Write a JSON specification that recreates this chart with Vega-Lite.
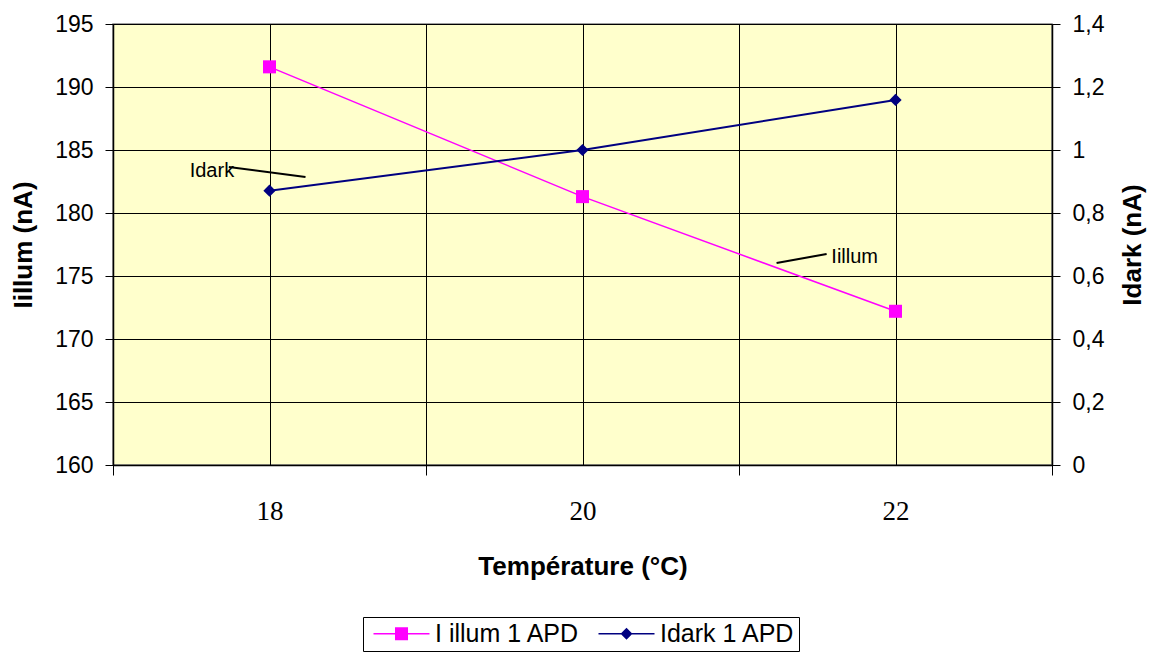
{
  "$schema": "https://vega.github.io/schema/vega-lite/v6.json",
  "width": 939,
  "height": 441,
  "autosize": "none",
  "padding": {"left": 113, "top": 24, "right": 99, "bottom": 188},
  "background": "white",
  "datasets": {
    "illum": [
      {"T": 18, "I": 191.6, "s": "I illum 1 APD"},
      {"T": 20, "I": 181.3, "s": "I illum 1 APD"},
      {"T": 22, "I": 172.2, "s": "I illum 1 APD"}
    ],
    "dark": [
      {"T": 18, "D": 0.871, "s": "Idark 1 APD"},
      {"T": 20, "D": 1.0, "s": "Idark 1 APD"},
      {"T": 22, "D": 1.159, "s": "Idark 1 APD"}
    ],
    "notes": [
      {"T": 17.74, "I": 183.65, "T2": 18.23, "I2": 182.86, "tx": 17.49, "ty": 183.33, "label": "Idark"},
      {"T": 21.24, "I": 176.03, "T2": 21.56, "I2": 176.75, "tx": 21.59, "ty": 176.47, "label": "Iillum"}
    ]
  },
  "layer": [
    {
      "layer": [
        {
          "data": {"name": "illum"},
          "mark": {"type": "line", "strokeWidth": 1.5},
          "encoding": {
            "x": {"field": "T", "type": "quantitative", "scale": {"domain": [17, 23], "nice": false, "zero": false},
              "axis": {
                "values": [17, 18, 19, 20, 21, 22, 23],
                "labelExpr": "datum.value % 2 === 0 ? '' + datum.value : ''",
                "grid": true, "gridColor": "#000000", "gridWidth": 1,
                "tickSize": 10,
                "tickOpacity": {"condition": {"test": "datum.value % 2 === 0", "value": 0}, "value": 1},
                "labelFont": "Liberation Serif", "labelFontSize": 27, "labelPadding": 23,
                "title": "Température (°C)", "titlePadding": 29
              }},
            "y": {"field": "I", "type": "quantitative", "scale": {"domain": [160, 195], "nice": false, "zero": false},
              "axis": {"values": [160, 165, 170, 175, 180, 185, 190, 195], "grid": true, "gridColor": "#000000", "gridWidth": 1,
                "tickSize": 8, "labelPadding": 12, "labelFontSize": 23, "title": "Iillum (nA)", "titlePadding": 18}},
            "color": {"field": "s", "type": "nominal", "scale": {"domain": ["I illum 1 APD", "Idark 1 APD"], "range": ["#FF00FF", "#000080"]},
              "legend": {
                "orient": "none", "legendX": 250, "legendY": 593, "direction": "horizontal", "title": null,
                "strokeColor": "#000000", "padding": 4, "labelFontSize": 25, "labelFont": "Liberation Sans", "labelColor": "#000000",
                "symbolSize": 196, "symbolOffset": 22, "labelOffset": 21, "columnPadding": 12,
                "encode": {"symbols": {"update": {
                  "shape": {"signal": "datum.value === 'I illum 1 APD' ? 'M-4,-0.1H4V0.1H-4Z M-0.93,-0.93H0.93V0.93H-0.93Z' : 'M-4,-0.1H4V0.1H-4Z M0,-0.85L0.85,0L0,0.85L-0.85,0Z'"},
                  "fill": {"signal": "datum.value === 'I illum 1 APD' ? '#FF00FF' : '#000080'"},
                  "fillOpacity": {"value": 1},
                  "strokeWidth": {"value": 0}
                }}}
              }}
          }
        },
        {
          "data": {"name": "illum"},
          "mark": {"type": "point", "shape": "square", "filled": true, "size": 170, "opacity": 1},
          "encoding": {
            "x": {"field": "T", "type": "quantitative"},
            "y": {"field": "I", "type": "quantitative"},
            "color": {"field": "s", "type": "nominal"}
          }
        },
        {
          "data": {"name": "notes"},
          "mark": {"type": "rule", "color": "#000000", "strokeWidth": 2},
          "encoding": {
            "x": {"field": "T", "type": "quantitative"},
            "y": {"field": "I", "type": "quantitative"},
            "x2": {"field": "T2"},
            "y2": {"field": "I2"}
          }
        },
        {
          "data": {"name": "notes"},
          "mark": {"type": "text", "align": "left", "baseline": "middle", "font": "Liberation Sans", "fontSize": 20, "color": "#000000"},
          "encoding": {
            "x": {"field": "tx", "type": "quantitative"},
            "y": {"field": "ty", "type": "quantitative"},
            "text": {"field": "label"}
          }
        }
      ]
    },
    {
      "data": {"name": "dark"},
      "layer": [
        {
          "mark": {"type": "line", "strokeWidth": 2},
          "encoding": {
            "x": {"field": "T", "type": "quantitative"},
            "y": {"field": "D", "type": "quantitative", "scale": {"domain": [0, 1.4], "nice": false},
              "axis": {"orient": "right", "values": [0, 0.2, 0.4, 0.6, 0.8, 1, 1.2, 1.4], "format": "~g", "grid": false,
                "tickSize": 8, "labelPadding": 12, "labelFontSize": 23, "title": "Idark (nA)", "titleAngle": 270, "titleBaseline": "top", "titlePadding": 16}},
            "color": {"field": "s", "type": "nominal"}
          }
        },
        {
          "mark": {"type": "point", "shape": "diamond", "filled": true, "size": 150, "opacity": 1},
          "encoding": {
            "x": {"field": "T", "type": "quantitative"},
            "y": {"field": "D", "type": "quantitative"},
            "color": {"field": "s", "type": "nominal"}
          }
        }
      ]
    }
  ],
  "resolve": {"scale": {"y": "independent"}},
  "config": {
    "locale": {"number": {"decimal": ",", "thousands": " ", "grouping": [3], "currency": ["", " €"]}},
    "view": {"stroke": "#808080", "strokeWidth": 1.5, "fill": "#FFFFCC"},
    "axis": {
      "domainColor": "#000000", "domainWidth": 1.5, "tickColor": "#000000", "labelColor": "#000000",
      "labelFont": "Liberation Sans", "titleFont": "Liberation Sans", "titleFontSize": 26, "titleFontWeight": "bold", "titleColor": "#000000"
    }
  }
}
